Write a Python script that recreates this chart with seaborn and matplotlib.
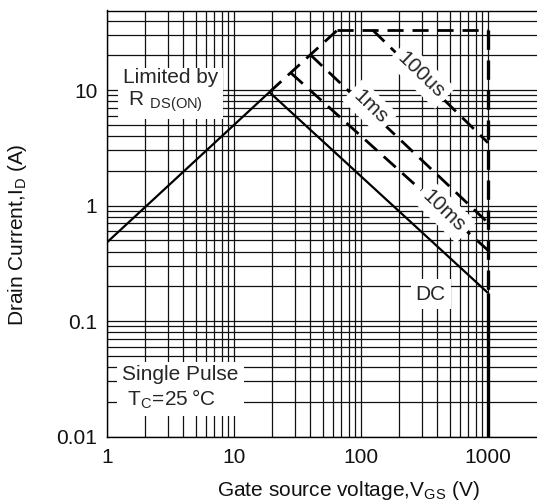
import matplotlib
matplotlib.use("Agg")
import matplotlib.pyplot as plt
import numpy as np
import pandas as pd
import seaborn as sns
from matplotlib.ticker import FixedLocator, NullFormatter, LogLocator

# Safe operating area boundary segments (drain-source voltage in V, drain current in A)
rds_v = [1, 19]
rds_i = [0.48, 9.6]
rds_ext_v = [19, 65]
rds_ext_i = [9.6, 33]
ipulse_v = [65, 1000]
ipulse_i = [33, 33]
us100_v = [124, 1000]
us100_i = [33, 3.5]
ms1_v = [40, 1000]
ms1_i = [20.2, 0.71]
ms10_v = [28, 1000]
ms10_i = [14.1, 0.41]
dc_v = [19, 1000]
dc_i = [9.6, 0.175]
vmax_pulse_v = [1000, 1000]
vmax_pulse_i = [33, 0.175]
vmax_dc_v = [1000, 1000]
vmax_dc_i = [0.175, 0.01]

x_ticks = [1, 10, 100, 1000]
x_tick_labels = ["1", "10", "100", "1000"]
y_ticks = [0.01, 0.1, 1, 10]
y_tick_labels = ["0.01", "0.1", "1", "10"]

sns.set_theme(style="white")
plt.rcParams["font.family"] = ["Liberation Sans", "DejaVu Sans"]
plt.rcParams["mathtext.fontset"] = "custom"
plt.rcParams["mathtext.rm"] = "Liberation Sans"
plt.rcParams["lines.solid_capstyle"] = "butt"
plt.rcParams["lines.dash_capstyle"] = "butt"

FS = 15
fig = plt.figure(figsize=(5.37, 5.04), dpi=100)
ax = fig.add_axes([107 / 537, 67.5 / 504, 430 / 537, 426 / 504])

dash = (0, (5.8, 3.2))
segments = [
    (rds_v, rds_i, "-", 1.6),
    (dc_v, dc_i, "-", 1.6),
    (vmax_dc_v, vmax_dc_i, "-", 2.4),
    (rds_ext_v, rds_ext_i, dash, 2.0),
    (ipulse_v, ipulse_i, dash, 2.0),
    (us100_v, us100_i, dash, 2.0),
    (ms1_v, ms1_i, dash, 2.0),
    (ms10_v, ms10_i, dash, 2.0),
    (vmax_pulse_v, vmax_pulse_i, dash, 2.4),
]
for xs, ys, ls, lw in segments:
    df = pd.DataFrame({"V": xs, "I": ys})
    sns.lineplot(data=df, x="V", y="I", ax=ax, color="black", linestyle=ls,
                 linewidth=lw, estimator=None, sort=False, zorder=3)

ax.set_xscale("log")
ax.set_yscale("log")
ax.set_xlim(1, 10 ** (430 / 127))
ax.set_ylim(0.01, 10 ** (1 + 79.5 / 115.3))

minor_x = [m * d for d in (1, 10, 100) for m in range(2, 10)]
ax.xaxis.set_major_locator(FixedLocator(x_ticks))
ax.xaxis.set_minor_locator(FixedLocator(minor_x))
ax.set_xticklabels(x_tick_labels)
ax.xaxis.set_minor_formatter(NullFormatter())
ax.yaxis.set_major_locator(FixedLocator(y_ticks))
ax.yaxis.set_minor_locator(LogLocator(base=10, subs=np.arange(2, 10)))
ax.set_yticklabels(y_tick_labels)
ax.yaxis.set_minor_formatter(NullFormatter())

ax.grid(which="both", color="#111111", linewidth=0.9, zorder=1)
ax.set_axisbelow(True)
ax.tick_params(which="both", length=0, labelsize=FS, colors="#111111")
ax.tick_params(axis="x", pad=8)
ax.tick_params(axis="y", pad=7)
for side in ("left", "bottom", "top"):
    ax.spines[side].set_color("black")
    ax.spines[side].set_linewidth(1.0)
ax.spines["right"].set_visible(False)

ax.set_xlabel(r"Gate source voltage,V$_\mathregular{GS}$ (V)", fontsize=FS, color="#111111")
ax.set_ylabel(r"Drain Current,I$_\mathregular{D}$ (A)", fontsize=FS, color="#111111")
ax.xaxis.set_label_coords((348 - 107) / 430, (436.5 - 479) / 426)
ax.yaxis.set_label_coords((29 - 107) / 430, 0.473)

box = dict(boxstyle="square,pad=0.25", facecolor="white", edgecolor="none")
ax.text(0.037, 0.811, "Limited by\n R $_\\mathregular{DS(ON)}$", transform=ax.transAxes,
        fontsize=FS, ha="left", va="center", linespacing=1.1, bbox=box, zorder=5)
ax.text(0.035, 0.114, "Single Pulse\n T$_\\mathregular{C}$=25\u2009°C", transform=ax.transAxes,
        fontsize=FS, ha="left", va="center", linespacing=1.15, bbox=box, zorder=5)
ax.text(0.753, 0.3345, "DC", transform=ax.transAxes, fontsize=FS,
        ha="center", va="center", bbox=box, zorder=5)
ax.text(0.730, 0.849, "100us", transform=ax.transAxes, fontsize=FS, rotation=-44,
        ha="center", va="center", rotation_mode="anchor", bbox=box, zorder=5)
ax.text(0.612, 0.773, "1ms", transform=ax.transAxes, fontsize=FS, rotation=-44,
        ha="center", va="center", rotation_mode="anchor", bbox=box, zorder=5)
ax.text(0.784, 0.529, "10ms", transform=ax.transAxes, fontsize=FS, rotation=-44,
        ha="center", va="center", rotation_mode="anchor", bbox=box, zorder=5)

fig.savefig("out.png", dpi=100, facecolor="white")
